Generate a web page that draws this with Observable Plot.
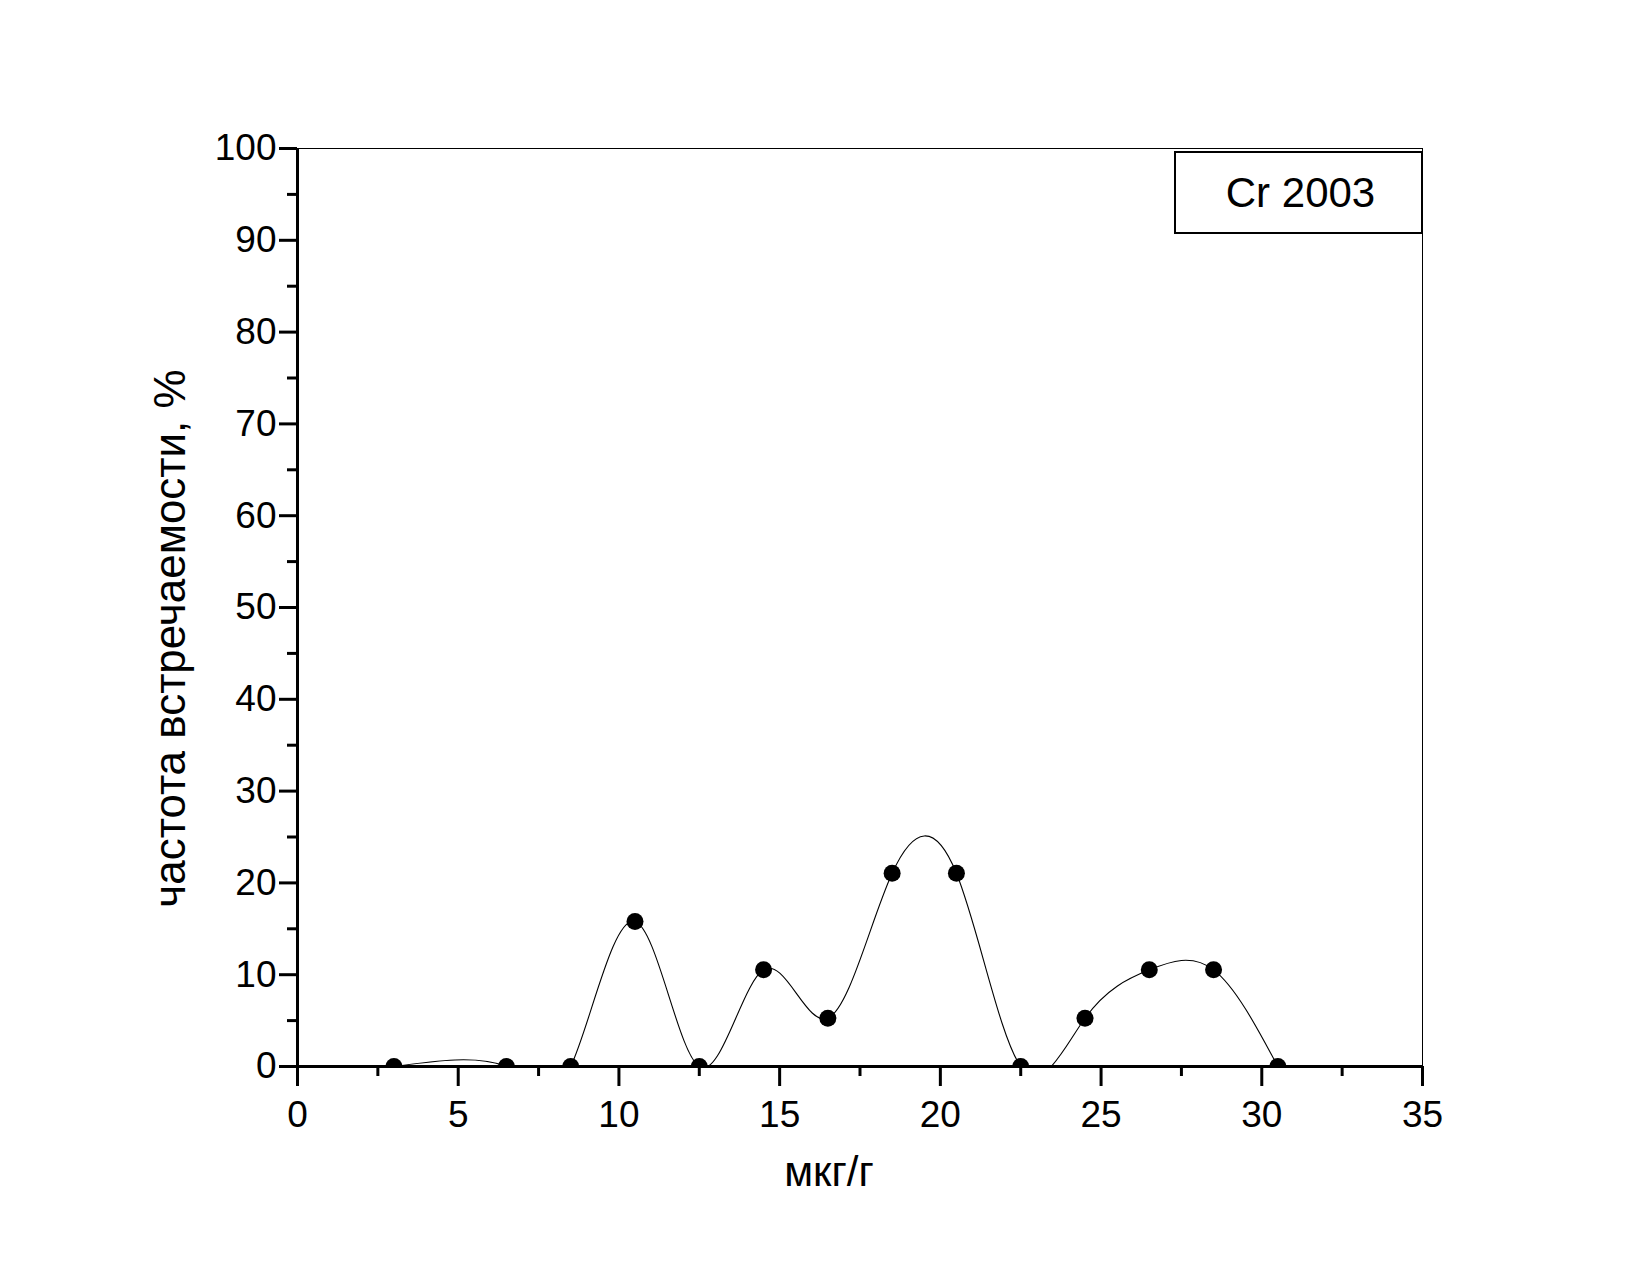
<!DOCTYPE html>
<html>
<head>
<meta charset="utf-8">
<script src="https://cdn.jsdelivr.net/npm/d3@7"></script>
<script src="https://cdn.jsdelivr.net/npm/@observablehq/plot@0.6"></script>
<style>
  html, body { margin: 0; padding: 0; background: #fff; }
</style>
</head>
<body>
<div id="chart"></div>
<script>
// Data
const concentration = [3, 6.5, 8.5, 10.5, 12.5, 14.5, 16.5, 18.5, 20.5, 22.5, 24.5, 26.5, 28.5, 30.5];
const frequency = [0, 0, 0, 15.79, 0, 10.53, 5.26, 21.05, 21.05, 0, 5.26, 10.53, 10.53, 0];
const xMajorTicks = [0, 5, 10, 15, 20, 25, 30, 35];
const xMinorTicks = [2.5, 7.5, 12.5, 17.5, 22.5, 27.5, 32.5];
const yMajorTicks = [0, 10, 20, 30, 40, 50, 60, 70, 80, 90, 100];
const yMinorTicks = [5, 15, 25, 35, 45, 55, 65, 75, 85, 95];
const xLabel = "мкг/г";
const yLabel = "частота встречаемости, %";
const legendLabel = "Cr 2003";

const data = concentration.map((x, i) => ({x, y: frequency[i]}));

const W = 1650, H = 1275;
const mL = 297, mR = 228, mT = 148, mB = 209;

const legendMark = (index, scales, values, dim) => {
  const right = dim.width - dim.marginRight;
  const bw = 247, bh = 81;
  const left = right - bw, top = dim.marginTop + 4;
  const g = d3.create("svg:g");
  g.append("rect")
    .attr("x", left).attr("y", top).attr("width", bw).attr("height", bh)
    .attr("fill", "white").attr("stroke", "black").attr("stroke-width", 2);
  g.append("text")
    .attr("x", left + bw / 2 + 2).attr("y", top + bh / 2)
    .attr("text-anchor", "middle").attr("dominant-baseline", "central")
    .attr("font-size", 42).attr("fill", "black")
    .text(legendLabel);
  return g.node();
};

const chart = Plot.plot({
  width: W,
  height: H,
  marginLeft: mL,
  marginRight: mR,
  marginTop: mT,
  marginBottom: mB,
  style: {fontFamily: "'Liberation Sans', Arial, sans-serif", background: "white", color: "black"},
  x: {domain: [0, 35]},
  y: {domain: [0, 100]},
  marks: [
    Plot.frame({stroke: "black", strokeWidth: 1}),
    Plot.axisX(xMajorTicks, {tickSize: 20, strokeWidth: 3, fontSize: 37, tickPadding: 14, label: null, tickFormat: d => String(d)}),
    Plot.axisX(xMinorTicks, {tickSize: 10, strokeWidth: 3, tickFormat: () => "", label: null}),
    Plot.axisY(yMajorTicks, {tickSize: 18, strokeWidth: 3, fontSize: 37, tickPadding: 3, label: null, tickFormat: d => String(d)}),
    Plot.axisY(yMinorTicks, {tickSize: 10, strokeWidth: 3, tickFormat: () => "", label: null}),
    Plot.line(data, {x: "x", y: "y", curve: "natural", stroke: "black", strokeWidth: 1.1, clip: true}),
    Plot.dot(data, {x: "x", y: "y", r: 8.5, fill: "black", stroke: "none", clip: true}),
    Plot.ruleX([0], {stroke: "black", strokeWidth: 3}),
    Plot.ruleY([0], {stroke: "black", strokeWidth: 3}),
    Plot.text([yLabel], {text: d => d, frameAnchor: "left", textAnchor: "middle", lineAnchor: "middle", rotate: -90, dx: -127, dy: 31, fontSize: 44, fill: "black"}),
    Plot.text([xLabel], {text: d => d, frameAnchor: "bottom", dx: -31, dy: 119, fontSize: 42, fill: "black"}),
    legendMark
  ]
});

document.getElementById("chart").appendChild(chart);
</script>
</body>
</html>
